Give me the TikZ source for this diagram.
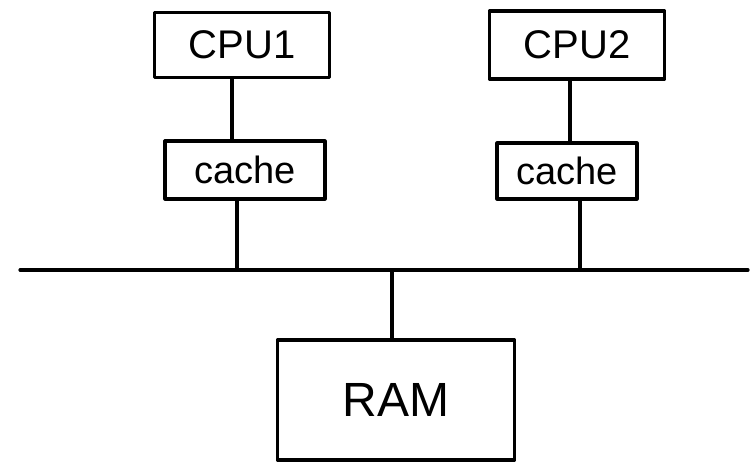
\documentclass[tikz,border=0pt]{standalone}
\usepackage{fontspec}
\setmainfont{Liberation Sans}
\begin{document}
\begin{tikzpicture}[x=1pt,y=-1pt,
  line width=3.2pt, line cap=round, line join=round,
  unit/.style={draw, rectangle, inner sep=0pt, anchor=center},
  wire/.style={draw}]
\useasboundingbox (0,0) rectangle (755,472);
% processors
\node[unit, minimum width=175pt, minimum height=65pt, font=\fontsize{40}{44}\selectfont] (cpu1) at (242,45) {CPU1};
\node[unit, minimum width=175pt, minimum height=68pt, font=\fontsize{40}{44}\selectfont] (cpu2) at (577,45) {CPU2};
% caches
\node[unit, minimum width=160pt, minimum height=58pt, font=\fontsize{38}{42}\selectfont] (cache1) at (245,170) {cache};
\node[unit, minimum width=140pt, minimum height=56pt, font=\fontsize{38}{42}\selectfont] (cache2) at (567,171) {cache};
% main memory
\node[unit, minimum width=237pt, minimum height=120pt, font=\fontsize{48}{52}\selectfont] (ram) at (396,400) {RAM};
% bus
\coordinate (busL) at (20,270);
\coordinate (busR) at (748,270);
\coordinate (t1) at (237,270);
\coordinate (t2) at (580,270);
\coordinate (t3) at (392,270);
\coordinate (c1) at (232,0);
\coordinate (c2) at (570,0);
\draw[wire] (busL) -- (busR);
% links
\draw[wire] (cpu1.south -| c1) -- (cache1.north -| c1);
\draw[wire] (cpu2.south -| c2) -- (cache2.north -| c2);
\draw[wire] (cache1.south -| t1) -- (t1);
\draw[wire] (cache2.south -| t2) -- (t2);
\draw[wire] (t3) -- (ram.north -| t3);
\end{tikzpicture}
\end{document}
